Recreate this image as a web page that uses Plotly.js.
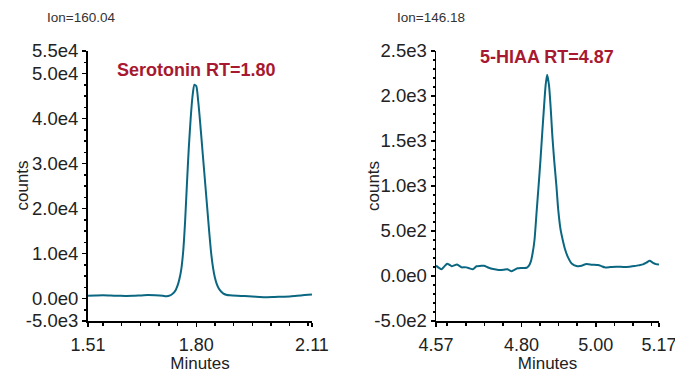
<!DOCTYPE html>
<html>
<head>
<meta charset="utf-8">
<script src="https://cdn.plot.ly/plotly-3.0.1.min.js"></script>
<style>html,body{margin:0;padding:0;background:#fff}#chart{width:675px;height:373px}</style>
</head>
<body>
<div id="chart"></div>
<script>
// ---- Serotonin chromatogram (Ion=160.04) ----
const serTime = [1.51,1.53,1.55,1.57,1.59,1.61,1.63,1.65,1.67,1.69,1.71,1.72,1.73,1.735,1.74,1.745,1.75,1.755,1.76,1.765,1.77,1.775,1.78,1.785,1.79,1.795,1.80,1.805,1.81,1.815,1.82,1.825,1.83,1.835,1.84,1.845,1.85,1.855,1.86,1.865,1.87,1.875,1.88,1.89,1.91,1.93,1.95,1.97,1.99,2.01,2.03,2.05,2.07,2.09,2.11];
const serCounts = [600,650,700,650,620,580,600,680,750,700,600,500,700,950,1300,1900,2900,4400,6600,10500,17000,25500,33500,40000,45000,47500,47200,44000,39500,34500,29500,24500,19500,14500,10000,6800,4600,3200,2300,1700,1300,1000,850,700,600,550,450,350,300,350,400,450,600,750,900];

// ---- 5-HIAA chromatogram (Ion=146.18) ----
const hiaaTime = [4.57,4.578,4.585,4.593,4.60,4.606,4.612,4.619,4.626,4.633,4.639,4.646,4.652,4.66,4.669,4.679,4.689,4.699,4.71,4.72,4.731,4.742,4.752,4.762,4.768,4.773,4.781,4.789,4.80,4.814,4.82,4.825,4.83,4.835,4.841,4.846,4.851,4.856,4.86,4.865,4.869,4.874,4.879,4.883,4.888,4.894,4.899,4.905,4.911,4.917,4.925,4.935,4.948,4.962,4.968,4.975,4.99,5.006,5.015,5.024,5.04,5.056,5.075,5.091,5.105,5.114,5.127,5.137,5.145,5.154,5.162,5.17];
const hiaaCounts = [115,90,75,110,136,125,108,118,128,112,96,98,96,85,74,108,112,114,95,81,72,66,70,76,62,52,68,86,90,92,115,160,255,400,731,1000,1285,1600,1840,2120,2237,2120,1840,1560,1285,1000,731,520,400,300,210,140,112,114,125,133,126,122,110,96,100,103,100,103,110,118,129,150,169,147,132,129];

// ---- tick labels ----
const serXTicks = [1.51, 1.80, 2.11];
const serXLabels = ['1.51', '1.80', '2.11'];
const serYTicks = [55000, 50000, 40000, 30000, 20000, 10000, 0, -5000];
const serYLabels = ['5.5e4', '5.0e4', '4.0e4', '3.0e4', '2.0e4', '1.0e4', '0.0e0', '-5.0e3'];
const hiaaXTicks = [4.57, 4.80, 5.00, 5.17];
const hiaaXLabels = ['4.57', '4.80', '5.00', '5.17'];
const hiaaYTicks = [2500, 2000, 1500, 1000, 500, 0, -500];
const hiaaYLabels = ['2.5e3', '2.0e3', '1.5e3', '1.0e3', '5.0e2', '0.0e0', '-5.0e2'];

const serTitle = 'Serotonin RT=1.80';
const hiaaTitle = '5-HIAA RT=4.87';
const serIon = 'Ion=160.04';
const hiaaIon = 'Ion=146.18';

function steps(a, b, d) {
  const out = [];
  const n = Math.round((b - a) / d);
  for (let i = 0; i <= n; i++) out.push(+(a + i * d).toFixed(4));
  return out;
}

const FONT = 'Liberation Sans, Arial, sans-serif';
const lineColor = '#0b6781';
const titleColor = '#a71930';
const textColor = '#222';

function xAxis(range, tv, tt, minor, domain, anchor) {
  return {
    domain: domain, anchor: anchor, range: range,
    tickmode: 'array', tickvals: tv, ticktext: tt,
    ticks: 'outside', ticklen: 4, tickwidth: 1.5, tickcolor: '#000',
    minor: {tickmode: 'array', tickvals: minor, ticks: 'outside', ticklen: 3, tickwidth: 1.5, tickcolor: '#000'},
    showline: true, linecolor: '#000', linewidth: 2,
    showgrid: false, zeroline: false,
    tickfont: {family: FONT, size: 18, color: textColor}, ticklabelstandoff: 2,
    ticklabeloverflow: 'allow',
    title: {text: 'Minutes', font: {family: FONT, size: 17, color: textColor}, standoff: 6},
    fixedrange: true
  };
}
function yAxis(range, tv, tt, minor, domain, anchor, lw) {
  return {
    domain: domain, anchor: anchor, range: range,
    tickmode: 'array', tickvals: tv, ticktext: tt,
    ticks: 'outside', ticklen: 4, tickwidth: 1.5, tickcolor: '#000',
    minor: {tickmode: 'array', tickvals: minor, ticks: 'outside', ticklen: 2, tickwidth: 1.5, tickcolor: '#000'},
    showline: true, linecolor: '#000', linewidth: lw,
    showgrid: false, zeroline: false,
    tickfont: {family: FONT, size: 18.5, color: textColor},
    ticklabeloverflow: 'allow',
    fixedrange: true
  };
}

const traces = [
  {x: serTime, y: serCounts, xaxis: 'x', yaxis: 'y', type: 'scatter', mode: 'lines',
   line: {color: lineColor, width: 2, shape: 'spline', smoothing: 0.6}, hoverinfo: 'x+y'},
  {x: hiaaTime, y: hiaaCounts, xaxis: 'x2', yaxis: 'y2', type: 'scatter', mode: 'lines',
   line: {color: lineColor, width: 2, shape: 'spline', smoothing: 0.6}, hoverinfo: 'x+y'}
];

const W = 675, H = 373;
const yDom = [(H - 321) / H, (H - 51) / H];
const yMid = (H - 186) / H;
const layout = {
  width: W, height: H,
  margin: {l: 0, r: 0, t: 0, b: 0, autoexpand: false},
  paper_bgcolor: '#fff', plot_bgcolor: '#fff',
  showlegend: false,
  xaxis: xAxis([1.5099, 2.1101], serXTicks, serXLabels, steps(1.55, 2.10, 0.05), [88 / W, 312 / W], 'y'),
  yaxis: yAxis([-5000, 55000], serYTicks, serYLabels, steps(-5000, 55000, 2500), yDom, 'x', 2),
  xaxis2: xAxis([4.5699, 5.1701], hiaaXTicks, hiaaXLabels, steps(4.60, 5.15, 0.05), [436 / W, 659 / W], 'y2'),
  yaxis2: yAxis([-500, 2500], hiaaYTicks, hiaaYLabels, steps(-500, 2500, 100), yDom, 'x2', 1.5),
  annotations: [
    {text: serTitle, xref: 'x', yref: 'y', x: 1.80, y: 50800, showarrow: false, xanchor: 'center', yanchor: 'middle',
     font: {family: FONT, size: 18, color: titleColor, weight: 'bold'}},
    {text: hiaaTitle, xref: 'x2', yref: 'y2', x: 4.869, y: 2436, showarrow: false, xanchor: 'center', yanchor: 'middle',
     font: {family: FONT, size: 18, color: titleColor, weight: 'bold'}},
    {text: serIon, xref: 'paper', yref: 'paper', x: 45 / W, y: (H - 17) / H, showarrow: false, xanchor: 'left', yanchor: 'middle',
     font: {family: FONT, size: 13.5, color: '#333'}},
    {text: hiaaIon, xref: 'paper', yref: 'paper', x: 395 / W, y: (H - 17) / H, showarrow: false, xanchor: 'left', yanchor: 'middle',
     font: {family: FONT, size: 13.5, color: '#333'}},
    {text: 'counts', xref: 'paper', yref: 'paper', x: 21.5 / W, y: yMid, textangle: -90, showarrow: false,
     xanchor: 'center', yanchor: 'middle', font: {family: FONT, size: 17, color: textColor}},
    {text: 'counts', xref: 'paper', yref: 'paper', x: 373 / W, y: yMid, textangle: -90, showarrow: false,
     xanchor: 'center', yanchor: 'middle', font: {family: FONT, size: 17, color: textColor}}
  ]
};

Plotly.newPlot('chart', traces, layout, {displayModeBar: false, staticPlot: true});
</script>
</body>
</html>
